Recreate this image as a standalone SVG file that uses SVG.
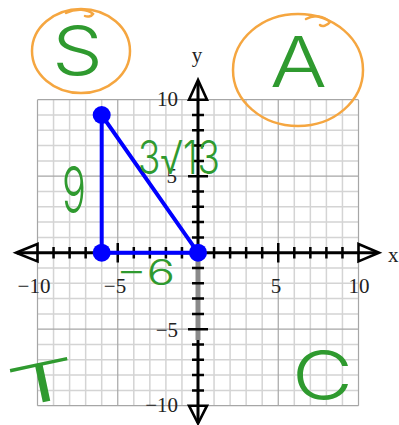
<svg xmlns="http://www.w3.org/2000/svg" width="399" height="425" viewBox="0 0 399 425">
<style>
.minor{stroke:#d4d4d4;stroke-width:1.5;fill:none}
.major{stroke:#a6a6a6;stroke-width:1.2;fill:none}
.axis{stroke:#000;stroke-width:3;fill:none}
.tick{stroke:#000;stroke-width:2.5;fill:none}
.arrow{stroke:#000;stroke-width:2.6;fill:#fff;stroke-linejoin:miter}
.num{font-family:"Liberation Serif","Times New Roman",serif;font-size:21px;fill:#222}
.tri{stroke:#0000ff;stroke-width:4;fill:none}
.dot{fill:#0000ff}
.hand{font-family:Inter,"Open Sans","Noto Sans",sans-serif;font-weight:300;fill:#2f9a2f}
.ring{stroke:#f5a640;stroke-width:2.5;fill:none;stroke-linecap:round}
</style>
<rect width="399" height="425" fill="#fff"/>
<g id="grid">
<path class="minor" d="M53.55,99.7V405.7M69.6,99.7V405.7M85.65,99.7V405.7M101.7,99.7V405.7M133.8,99.7V405.7M149.85,99.7V405.7M165.9,99.7V405.7M181.95,99.7V405.7M214.05,99.7V405.7M230.1,99.7V405.7M246.15,99.7V405.7M262.2,99.7V405.7M294.3,99.7V405.7M310.35,99.7V405.7M326.4,99.7V405.7M342.45,99.7V405.7"/>
<path class="minor" d="M37.5,115H358.5M37.5,130.3H358.5M37.5,145.6H358.5M37.5,160.9H358.5M37.5,191.5H358.5M37.5,206.8H358.5M37.5,222.1H358.5M37.5,237.4H358.5M37.5,268H358.5M37.5,283.3H358.5M37.5,298.6H358.5M37.5,313.9H358.5M37.5,344.5H358.5M37.5,359.8H358.5M37.5,375.1H358.5M37.5,390.4H358.5"/>
<path class="major" d="M37.5,99.7V405.7M117.75,99.7V405.7M278.25,99.7V405.7M358.5,99.7V405.7M37.5,99.7H358.5M37.5,176.2H358.5M37.5,329.2H358.5M37.5,405.7H358.5"/>
</g>
<g id="axes">
<path class="axis" d="M17,252.7H377M198,81V423"/>
<path d="M198,256V340" stroke="#8a8a8a" stroke-width="5"/>
<path class="tick" d="M53.55,247V258.5M69.6,247V258.5M85.65,247V258.5M101.7,247V258.5M133.8,247V258.5M149.85,247V258.5M165.9,247V258.5M181.95,247V258.5M214.05,247V258.5M230.1,247V258.5M246.15,247V258.5M262.2,247V258.5M294.3,247V258.5M310.35,247V258.5M326.4,247V258.5M342.45,247V258.5M117.75,243V262.5M278.25,243V262.5"/>
<path class="tick" d="M192,115H204M192,130.3H204M192,145.6H204M192,160.9H204M192,191.5H204M192,206.8H204M192,222.1H204M192,237.4H204M192,268H204M192,283.3H204M192,298.6H204M192,313.9H204M192,344.5H204M192,359.8H204M192,375.1H204M192,390.4H204M188,176.2H208M188,329.2H208"/>
<polygon class="arrow" points="198,80 189,99.7 207,99.7"/>
<polygon class="arrow" points="198,423.5 189,405.7 207,405.7"/>
<polygon class="arrow" points="16,252.7 37.5,244 37.5,261.4"/>
<polygon class="arrow" points="379,252.7 358.5,244 358.5,261.4"/>
<path d="M198,82V99M17,252.7H37M358,252.7H376M198,406V422" stroke="#000" stroke-width="3"/>
</g>
<g id="labels">
<text class="num" x="197" y="62" text-anchor="middle">y</text>
<text class="num" x="388" y="262">x</text>
<text class="num" x="178" y="106" text-anchor="end">10</text>
<text class="num" x="177" y="183" text-anchor="end">5</text>
<text class="num" x="178" y="337" text-anchor="end">−5</text>
<text class="num" x="178" y="412" text-anchor="end">−10</text>
<text class="num" x="34" y="293" text-anchor="middle">−10</text>
<text class="num" x="115" y="293" text-anchor="middle">−5</text>
<text class="num" x="276" y="293" text-anchor="middle">5</text>
<text class="num" x="359" y="293" text-anchor="middle">10</text>
</g>
<g id="triangle">
<path class="tri" d="M101.7,115V252.7H198Z"/>
<circle class="dot" cx="101.7" cy="115" r="9"/>
<circle class="dot" cx="101.7" cy="252.7" r="9"/>
<circle class="dot" cx="198" cy="252.7" r="9"/>
</g>
<g id="notes">
<ellipse class="ring" cx="81" cy="51" rx="49" ry="42"/>
<path class="ring" d="M66,13C76,8 88,9 93,14C91,17 87,17 85,16"/>
<ellipse class="ring" cx="298" cy="70" rx="65" ry="56"/>
<path class="ring" d="M306,19C314,14 324,16 330,22C327,26 322,27 320,25"/>
<text class="hand" x="52" y="75" font-size="68" textLength="51" lengthAdjust="spacingAndGlyphs">S</text>
<text class="hand" x="270" y="87" font-size="70" textLength="57" lengthAdjust="spacingAndGlyphs">A</text>
<text class="hand" x="62" y="213" font-size="64" textLength="24" lengthAdjust="spacingAndGlyphs">9</text>
<text class="hand" x="138" y="174" font-size="46" textLength="82" lengthAdjust="spacingAndGlyphs">3√13</text>
<text class="hand" x="116" y="285" font-size="35" textLength="59" lengthAdjust="spacingAndGlyphs">−6</text>
<text class="hand" x="8" y="402" font-size="54" textLength="70" lengthAdjust="spacingAndGlyphs" transform="rotate(-12 42 385)">T</text>
<text class="hand" x="292" y="400" font-size="68" textLength="61" lengthAdjust="spacingAndGlyphs">C</text>
</g>
</svg>
